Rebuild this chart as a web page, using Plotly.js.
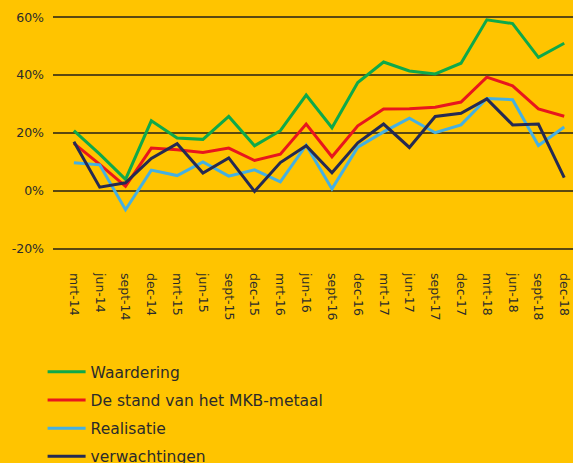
<!DOCTYPE html>
<html>
<head>
<meta charset="utf-8">
<script src="https://cdn.plot.ly/plotly-3.0.1.min.js"></script>
<style>
  html, body { margin: 0; padding: 0; background: #FFC400; }
  #chart { width: 573px; height: 463px; }
</style>
</head>
<body>
<div id="chart"></div>
<script>
// === MKB-metaal indicator chart ===

const BG_COLOR = '#FFC400';
const GRID_COLOR = '#5a4810';
const TEXT_COLOR = '#2b2b2b';

// Quarters on the x axis
const quarters = [
  'mrt-14', 'jun-14', 'sept-14', 'dec-14',
  'mrt-15', 'jun-15', 'sept-15', 'dec-15',
  'mrt-16', 'jun-16', 'sept-16', 'dec-16',
  'mrt-17', 'jun-17', 'sept-17', 'dec-17',
  'mrt-18', 'jun-18', 'sept-18', 'dec-18'
];

// Series values in percent
const waardering = [20.8, 12.7, 4.0, 24.2, 18.3, 17.8, 25.7, 15.6, 20.8, 33.1,
                    21.8, 37.4, 44.5, 41.4, 40.4, 44.1, 59.1, 57.8, 46.1, 51.0];
const standMkb = [16.4, 9.2, 1.6, 14.8, 14.2, 13.3, 14.8, 10.5, 12.7, 23.1,
                  11.8, 22.5, 28.3, 28.4, 28.9, 30.7, 39.3, 36.3, 28.3, 25.8];
const realisatie = [9.7, 9.0, -6.5, 7.2, 5.3, 10.0, 5.1, 7.3, 3.1, 15.8,
                    0.7, 15.1, 20.4, 25.1, 20.1, 22.8, 31.9, 31.5, 15.7, 22.1];
const verwachtingen = [17.0, 1.3, 2.8, 11.2, 16.3, 6.2, 11.4, -0.2, 9.8, 15.6,
                       6.3, 16.6, 23.1, 15.0, 25.7, 26.8, 31.8, 22.8, 23.1, 4.6];

const yTicks = [-20, 0, 20, 40, 60];
const yTickLabels = ['-20%', '0%', '20%', '40%', '60%'];

const series = [
  { name: 'Waardering', y: waardering, color: '#0ea94a' },
  { name: 'De stand van het MKB-metaal', y: standMkb, color: '#e8161d' },
  { name: 'Realisatie', y: realisatie, color: '#45b0e2' },
  { name: 'verwachtingen', y: verwachtingen, color: '#252a52' }
];

const traces = series.map((s, i) => ({
  type: 'scatter',
  mode: 'lines',
  name: s.name,
  x: quarters,
  y: s.y,
  legendgroup: 'g' + i,
  line: { color: s.color, width: 3 },
  hoverinfo: 'skip'
}));

const layout = {
  width: 573,
  height: 463,
  paper_bgcolor: BG_COLOR,
  plot_bgcolor: BG_COLOR,
  // range padded a little so the -20% and 60% gridlines get drawn;
  // autoexpand off so the legend running off the bottom doesn't squash the plot
  margin: { l: 53, r: 0, t: 16, b: 213, autoexpand: false },
  font: { family: 'DejaVu Sans, Verdana, sans-serif', color: TEXT_COLOR, size: 12.5 },
  xaxis: {
    type: 'category',
    range: [-0.81, 19.34],
    showgrid: false,
    zeroline: false,
    showline: false,
    ticks: '',
    tickangle: 90,
    ticklabelstandoff: 22,
    tickfont: { size: 12.5, color: TEXT_COLOR }
  },
  yaxis: {
    range: [-20.4, 60.4],
    tickvals: yTicks,
    ticktext: yTickLabels,
    showgrid: true,
    gridcolor: GRID_COLOR,
    gridwidth: 1.5,
    zeroline: true,
    zerolinecolor: GRID_COLOR,
    zerolinewidth: 2,
    showline: false,
    ticks: '',
    ticklabelstandoff: 8,
    tickfont: { size: 12.5, color: TEXT_COLOR }
  },
  showlegend: true,
  legend: {
    orientation: 'v',
    x: -0.02,
    xanchor: 'left',
    y: -0.45,
    yanchor: 'top',
    bgcolor: 'rgba(0,0,0,0)',
    tracegroupgap: 5,
    itemwidth: 38,
    font: { size: 15.5, color: TEXT_COLOR }
  }
};

Plotly.newPlot('chart', traces, layout, { displayModeBar: false, staticPlot: true });
</script>
</body>
</html>
